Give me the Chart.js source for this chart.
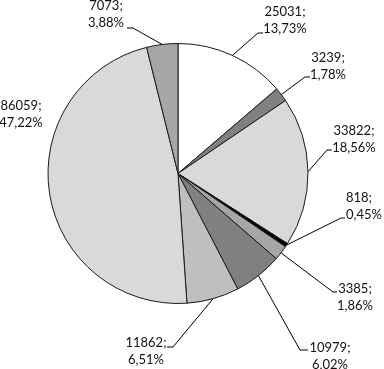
<!DOCTYPE html>
<html>
<head>
<meta charset="utf-8">
<script src="https://cdn.jsdelivr.net/npm/chart.js@4/dist/chart.umd.min.js"></script>
<style>
html,body{margin:0;padding:0;background:#fff;}
#wrap{width:384px;height:369px;position:relative;}
</style>
</head>
<body>
<div id="wrap"><canvas id="c" width="384" height="369"></canvas></div>
<script>
const values = [25031, 3239, 33822, 818, 3385, 10979, 11862, 86059, 7073];
const percentLabels = ["13,73%", "1,78%", "18,56%", "0,45%", "1,86%", "6,02%", "6,51%", "47,22%", "3,88%"];
const sliceColors = ["#ffffff", "#808080", "#d9d9d9", "#000000", "#a6a6a6", "#808080", "#bfbfbf", "#d9d9d9", "#a6a6a6"];

// label placement (annotation layout)
const labelLayout = [
  {x: 285, align: "center", b: 16, elbow: [258, 33], end: [263, 33]},
  {x: 328, align: "center", b: 62, elbow: [305, 77], end: [310, 77]},
  {x: 354, align: "center", b: 135, elbow: [327, 150], end: [332, 150]},
  {x: 346, align: "left", b: 202, elbow: [341, 218], end: [345, 218]},
  {x: 355, align: "center", b: 293, elbow: [333, 292], end: [337, 292]},
  {x: 330, align: "center", b: 352, elbow: [300, 350], end: [308, 350]},
  {x: 146, align: "center", b: 347, elbow: [173, 347], end: [167, 347]},
  {x: 21, align: "center", b: 110, elbow: null, end: null},
  {x: 106, align: "center", b: 10, elbow: [133, 28], end: [127, 28]}
];

const labelPlugin = {
  id: "pieLabels",
  afterDatasetsDraw(chart) {
    const ctx = chart.ctx;
    const meta = chart.getDatasetMeta(0);
    ctx.save();
    meta.data.forEach((arc, i) => {
      const L = labelLayout[i];
      const p = arc.getProps(["x", "y", "startAngle", "endAngle", "outerRadius"], true);
      const mid = (p.startAngle + p.endAngle) / 2;
      const ex = p.x + Math.cos(mid) * p.outerRadius;
      const ey = p.y + Math.sin(mid) * p.outerRadius;
      if (L.elbow) {
        ctx.beginPath();
        ctx.strokeStyle = "#000";
        ctx.lineWidth = 1;
        ctx.moveTo(ex, ey);
        ctx.lineTo(L.elbow[0], L.elbow[1]);
        ctx.lineTo(L.end[0], L.end[1]);
        ctx.stroke();
      }
      ctx.fillStyle = "#111";
      ctx.font = "13px Lato";
      ctx.textAlign = L.align;
      ctx.textBaseline = "alphabetic";
      ctx.fillText(values[i] + ";", L.x, L.b);
      ctx.fillText(percentLabels[i], L.x, L.b + 17);
    });
    ctx.restore();
  }
};

new Chart(document.getElementById("c"), {
  type: "pie",
  data: {
    labels: values.map(String),
    datasets: [{
      data: values,
      backgroundColor: sliceColors,
      borderColor: "#1a1a1a",
      borderWidth: 1
    }]
  },
  options: {
    responsive: false,
    animation: false,
    layout: {padding: {left: 47, right: 75, top: 43, bottom: 65}},
    plugins: {legend: {display: false}, tooltip: {enabled: false}}
  },
  plugins: [labelPlugin]
});
</script>
</body>
</html>
